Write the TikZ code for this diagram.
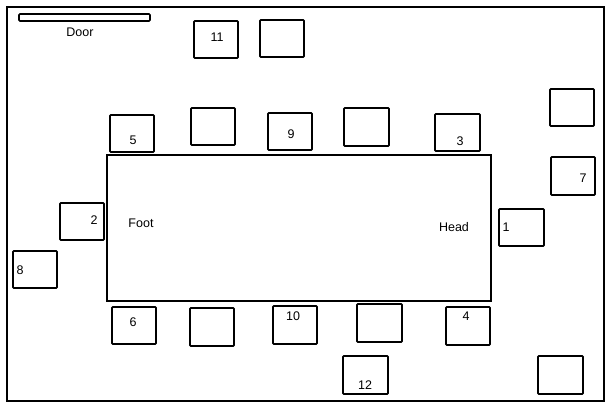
\documentclass[tikz,border=0pt]{standalone}
\usepackage{fontspec}
\setmainfont{Liberation Sans}
\begin{document}
\begin{tikzpicture}[x=1pt,y=-1pt,
  chair/.style={draw=black,line width=1.6pt,rounded corners=0.8pt},
  lbl/.style={inner sep=0pt,font=\fontsize{12.5}{15}\selectfont}]
\useasboundingbox (0,0) rectangle (612,410);
% room
\draw[line width=2pt] (7,7) rectangle (604,401);
% door
\draw[line width=1.6pt,rounded corners=1pt] (19,14) rectangle (150,21);
\node[lbl] (door) at (80,32) {Door};
% table
\draw[line width=2.8pt] (107,155) rectangle (491,301);
\node[lbl] (foot) at (141,223) {Foot};
\node[lbl] (head) at (454,227) {Head};
% chairs
\draw[chair] (194,21) rectangle (238,58);  \node[lbl] (l11) at (217,37) {11};
\draw[chair] (260,20) rectangle (304,57);
\draw[chair] (110,115) rectangle (154,152); \node[lbl] (l5) at (133,140) {5};
\draw[chair] (191,108) rectangle (235,145);
\draw[chair] (268,113) rectangle (312,150); \node[lbl] (l9) at (291,134) {9};
\draw[chair] (344,108) rectangle (389,146);
\draw[chair] (435,114) rectangle (480,151); \node[lbl] (l3) at (460,141) {3};
\draw[chair] (550,89) rectangle (594,126);
\draw[chair] (551,157) rectangle (595,195); \node[lbl] (l7) at (583,178) {7};
\draw[chair] (60,203) rectangle (104,240);  \node[lbl] (l2) at (94,220) {2};
\draw[chair] (13,251) rectangle (57,288);   \node[lbl] (l8) at (20,270) {8};
\draw[chair] (499,209) rectangle (544,246); \node[lbl] (l1) at (506,227) {1};
\draw[chair] (112,307) rectangle (156,344); \node[lbl] (l6) at (133,322) {6};
\draw[chair] (190,308) rectangle (234,346);
\draw[chair] (273,306) rectangle (317,344); \node[lbl] (l10) at (293,316) {10};
\draw[chair] (357,304) rectangle (402,342);
\draw[chair] (446,307) rectangle (490,345); \node[lbl] (l4) at (466,316) {4};
\draw[chair] (343,356) rectangle (388,394); \node[lbl] (l12) at (365,385) {12};
\draw[chair] (538,356) rectangle (583,394);
\end{tikzpicture}
\end{document}
